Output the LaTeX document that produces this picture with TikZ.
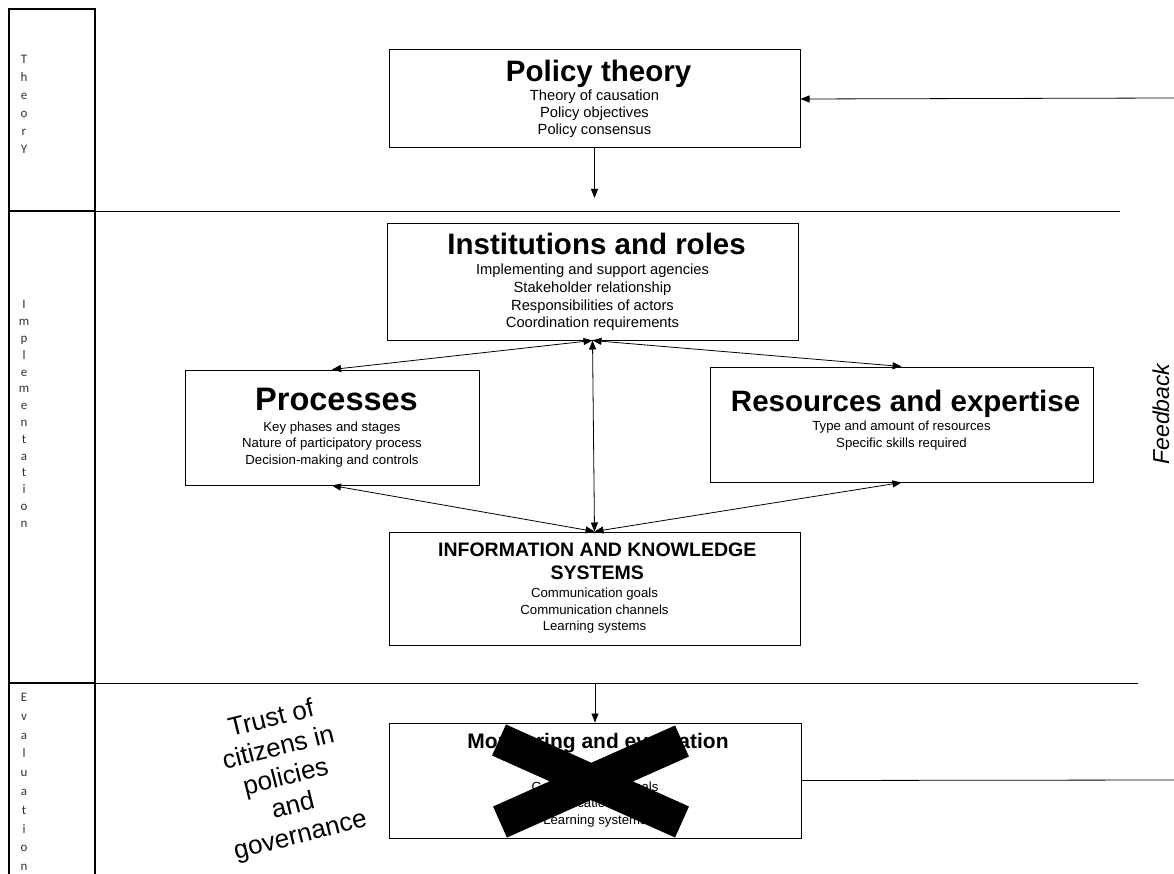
\documentclass[tikz,border=0pt]{standalone}
\usepackage{fontspec}
\setmainfont{Liberation Sans}
\newfontfamily\colfont{Carlito}
\usetikzlibrary{arrows.meta}
\newcommand{\headfont}[1]{\bfseries\fontsize{#1}{#1}\selectfont}

\begin{document}
\begin{tikzpicture}[x=1pt, y=-1pt,
  box/.style={draw, line width=1pt, inner sep=0pt, align=center},
  stage/.style={align=center, text=black!80, font=\colfont\fontsize{13}{#1}\selectfont},
  link/.style={line width=0.8pt, -{Triangle[length=9pt, width=7pt]}},
  twoway/.style={line width=0.8pt, {Triangle[length=9pt, width=7pt]}-{Triangle[length=9pt, width=7pt]}},
  rule/.style={line width=0.8pt}]

\useasboundingbox (0,0) rectangle (1174,874);

% stage column
\draw[line width=1.5pt] (9,880) -- (9,9) -- (95,9) -- (95,880);
\draw[line width=1.5pt] (9,211) -- (95,211);
\draw[line width=1.5pt] (9,683) -- (95,683);
\draw[rule] (95,211) -- (1120,211);
\draw[rule] (95,683) -- (1138,683);

\node[stage=18] (theory-lbl) at (24,104) {T\\h\\e\\o\\r\\Y};
\node[stage=16.8] (impl-lbl) at (24,414) {I\\m\\p\\l\\e\\m\\e\\n\\t\\a\\t\\i\\o\\n};
\node[stage=18.8] (eval-lbl) at (24,782) {E\\v\\a\\l\\u\\a\\t\\i\\o\\n};

% theory
\node[box, minimum width=411pt, minimum height=98pt, font=\fontsize{14.7}{17}\selectfont] (theory) at (594.5,99)
  {{\headfont{29.5} Policy theory}\\[2.5pt] Theory of causation\\ Policy objectives\\ Policy consensus};

% implementation
\node[box, minimum width=411pt, minimum height=116pt, font=\fontsize{14.7}{17.7}\selectfont] (inst) at (592.5,282)
  {{\headfont{29.5} Institutions and roles}\\[2.5pt] Implementing and support agencies\\ Stakeholder relationship\\
   Responsibilities of actors\\ Coordination requirements};
\node[box, minimum width=294pt, minimum height=115pt, font=\fontsize{13.2}{16.5}\selectfont] (proc) at (332,427.5)
  {{\headfont{32.5} Processes}\\[4pt] Key phases and stages\\ Nature of participatory process\\ Decision-making and controls};
\node[box, minimum width=383pt, minimum height=115pt, font=\fontsize{13.2}{16.5}\selectfont] (res) at (901.5,424.5)
  {{\headfont{29.5} Resources and expertise}\\[3pt] Type and amount of resources\\ Specific skills required\\[-5pt]\mbox{}};
\node[box, minimum width=411pt, minimum height=113pt, font=\fontsize{13.2}{16.5}\selectfont] (info) at (594.5,588.5)
  {{\headfont{19.5} INFORMATION AND KNOWLEDGE}\\[6.5pt] {\headfont{19.5} SYSTEMS}\\[1.5pt]
   Communication goals\\ Communication channels\\ Learning systems};

% evaluation
\node[box, minimum width=412pt, minimum height=115pt, font=\fontsize{13.2}{16.5}\selectfont] (mon) at (595,780.5)
  {{\headfont{21} Monitoring and evaluation}\\[26pt] Communication goals\\ Communication channels\\ Learning systems};
\draw[line width=34pt] (499,740) -- (682,822) (682,741) -- (500,822);

\node[rotate=14, align=center, font=\fontsize{26}{30}\selectfont] (trust) at (286,778)
  {Trust of\\ citizens in\\ policies\\ and\\ governance};
\node[rotate=90, font=\itshape\fontsize{23}{23}\selectfont] (feedback) at (1161,414) {Feedback};

% connectors
\coordinate (fb-top) at (1174,98);
\coordinate (theory-out) at (594.5,198);
\coordinate (eval-in) at (595,683);
\coordinate (fb-bot) at (1174,780);
\draw[link] (fb-top) -- (theory.east);
\draw[link] (theory.south) -- (theory-out);
\draw[twoway] (inst.south) -- (proc.north);
\draw[twoway] (inst.south) -- (res.north);
\draw[twoway] (inst.south) -- (info.north);
\draw[twoway] (proc.south) -- (info.north);
\draw[twoway] (res.south) -- (info.north);
\draw[link] (eval-in) -- (mon.north);
\draw[rule] (mon.east) -- (fb-bot);

\end{tikzpicture}
\end{document}
